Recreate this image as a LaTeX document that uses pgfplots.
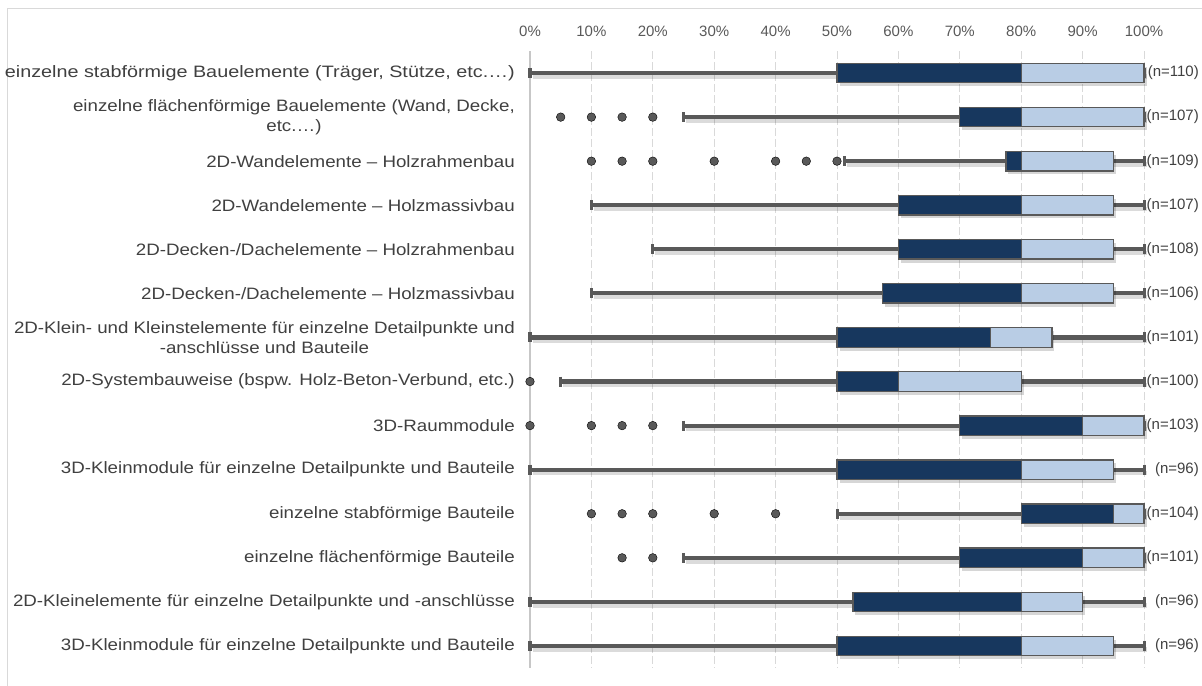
\documentclass[border=0pt]{standalone}
\usepackage{fontspec}
\setmainfont{Liberation Sans}
\newfontfamily\labelfont[FakeStretch=1.135]{Liberation Sans}
\newfontfamily\labelfontwide[FakeStretch=1.2]{Liberation Sans}
\usepackage{pgfplots}
\pgfplotsset{compat=1.18}
\usepgfplotslibrary{statistics}
\definecolor{darkbox}{HTML}{17375E}
\definecolor{lightbox}{HTML}{B9CDE5}
\definecolor{wgrey}{HTML}{595959}
\definecolor{gridc}{HTML}{D9D9D9}
\definecolor{txt}{HTML}{404040}
\definecolor{frame}{HTML}{D9D9D9}

\tikzset{boxshadow/.style={preaction={fill=black, fill opacity=0.16, draw=none, transform canvas={shift={(2.5bp,-3.5bp)}}}}}

% #1 row, #2 Q1, #3 median, #4 Q3
\newcommand{\boxes}[4]{%
\addplot[fill=darkbox, draw=wgrey, line width=1.3bp, boxplot/every box/.style={boxshadow},
  boxplot prepared={draw position=#1, lower whisker=#2, lower quartile=#2,
  median=#3, upper quartile=#3, upper whisker=#3}] coordinates {};
\addplot[fill=lightbox, draw=wgrey, line width=1.3bp, boxplot/every box/.style={boxshadow},
  boxplot prepared={draw position=#1, lower whisker=#3, lower quartile=#3,
  median=#3, upper quartile=#4, upper whisker=#4}] coordinates {};
}

\begin{document}
\begin{tikzpicture}
\useasboundingbox (0,0) rectangle (1202bp,686bp);
\draw[frame, line width=1bp] (7.5bp,-20bp) rectangle (1230bp,677.5bp);
\begin{axis}[
  at={(530bp,18bp)}, anchor=south west,
  width=614bp, height=617bp, scale only axis,
  xmin=0, xmax=100, ymin=0.5, ymax=14.5, y dir=reverse,
  clip=false,
  boxplot/draw direction=x,
  boxplot/box extend=0.44,
  boxplot/every whisker/.style={draw=none},
  axis x line*=top, axis y line*=left,
  x axis line style={draw=none},
  y axis line style={color=gridc!80!gray, line width=1.3bp},
  major tick length=0pt,
  xtick={0,10,...,100},
  xticklabels={0\%,10\%,20\%,30\%,40\%,50\%,60\%,70\%,80\%,90\%,100\%},
  xticklabel style={font=\fontsize{15bp}{18bp}\selectfont, text=wgrey, inner sep=0pt, anchor=south, yshift=14bp},
  xmajorgrids,
  major grid style={gridc, line width=1bp, dash pattern=on 8bp off 3bp},
  ytick={1,...,14},
  yticklabels={
    {\labelfontwide einzelne stabförmige Bauelemente (Träger, Stütze, etc.…)},
    {einzelne flächenförmige Bauelemente (Wand, Decke,\\etc.…)},
    {2D-Wandelemente – Holzrahmenbau},
    {2D-Wandelemente – Holzmassivbau},
    {2D-Decken-/Dachelemente – Holzrahmenbau},
    {2D-Decken-/Dachelemente – Holzmassivbau},
    {2D-Klein- und Kleinstelemente für einzelne Detailpunkte und\\-anschlüsse und Bauteile},
    {2D-Systembauweise (bspw. Holz-Beton-Verbund, etc.)},
    {3D-Raummodule},
    {3D-Kleinmodule für einzelne Detailpunkte und Bauteile},
    {einzelne stabförmige Bauteile},
    {einzelne flächenförmige Bauteile},
    {2D-Kleinelemente für einzelne Detailpunkte und -anschlüsse},
    {3D-Kleinmodule für einzelne Detailpunkte und Bauteile}},
  yticklabel style={font=\labelfont\fontsize{16.5bp}{19.5bp}\selectfont, text=txt, align=center, inner sep=0pt, anchor=east, xshift=-15bp},
]
% whiskers (min to max)
\addplot[wgrey, line width=4.2bp, unbounded coords=jump, mark=none,
  preaction={draw=black, draw opacity=0.14, line width=4.5bp, transform canvas={shift={(2.5bp,-3.5bp)}}}] coordinates {
(0,1) (100,1) (nan,nan)
(25,2) (100,2) (nan,nan)
(51.2,3) (100,3) (nan,nan)
(10,4) (100,4) (nan,nan)
(20,5) (100,5) (nan,nan)
(10,6) (100,6) (nan,nan)
(0,7) (100,7) (nan,nan)
(5,8) (100,8) (nan,nan)
(25,9) (100,9) (nan,nan)
(0,10) (100,10) (nan,nan)
(50,11) (100,11) (nan,nan)
(25,12) (100,12) (nan,nan)
(0,13) (100,13) (nan,nan)
(0,14) (100,14)
};
% boxes: row, Q1, median, Q3
\boxes{1}{50}{80}{100}
\boxes{2}{70}{80}{100}
\boxes{3}{77.5}{80}{95}
\boxes{4}{60}{80}{95}
\boxes{5}{60}{80}{95}
\boxes{6}{57.4}{80}{95}
\boxes{7}{50}{75}{85}
\boxes{8}{50}{60}{80}
\boxes{9}{70}{90}{100}
\boxes{10}{50}{80}{95}
\boxes{11}{80}{95}{100}
\boxes{12}{70}{90}{100}
\boxes{13}{52.6}{80}{90}
\boxes{14}{50}{80}{95}
% whisker caps
\addplot[only marks, mark=|, mark size=5bp, mark options={line width=3bp, draw=wgrey}] coordinates {
(0,1) (100,1) (25,2) (100,2) (51.2,3) (100,3) (10,4) (100,4)
(20,5) (100,5) (10,6) (100,6) (0,7) (100,7) (5,8) (100,8)
(25,9) (100,9) (0,10) (100,10) (50,11) (100,11) (25,12) (100,12)
(0,13) (100,13) (0,14) (100,14)
};
% outliers
\addplot[only marks, mark=*, mark size=4.3bp, mark options={fill=wgrey, draw=none}] coordinates {
(5,2) (10,2) (15,2) (20,2)
(10,3) (15,3) (20,3) (30,3) (40,3) (45,3) (50,3)
(0,8)
(0,9) (10,9) (15,9) (20,9)
(10,11) (15,11) (20,11) (30,11) (40,11)
(15,12) (20,12)
};
% sample sizes
\begin{scope}[every node/.style={anchor=east, inner sep=0pt, text=txt, font=\fontsize{15bp}{18bp}\selectfont}]
\node at ([xshift=55bp]axis cs:100,1) {(n=110)};
\node at ([xshift=55bp]axis cs:100,2) {(n=107)};
\node at ([xshift=55bp]axis cs:100,3) {(n=109)};
\node at ([xshift=55bp]axis cs:100,4) {(n=107)};
\node at ([xshift=55bp]axis cs:100,5) {(n=108)};
\node at ([xshift=55bp]axis cs:100,6) {(n=106)};
\node at ([xshift=55bp]axis cs:100,7) {(n=101)};
\node at ([xshift=55bp]axis cs:100,8) {(n=100)};
\node at ([xshift=55bp]axis cs:100,9) {(n=103)};
\node at ([xshift=55bp]axis cs:100,10) {(n=96)};
\node at ([xshift=55bp]axis cs:100,11) {(n=104)};
\node at ([xshift=55bp]axis cs:100,12) {(n=101)};
\node at ([xshift=55bp]axis cs:100,13) {(n=96)};
\node at ([xshift=55bp]axis cs:100,14) {(n=96)};
\end{scope}
\end{axis}
\end{tikzpicture}
\end{document}
